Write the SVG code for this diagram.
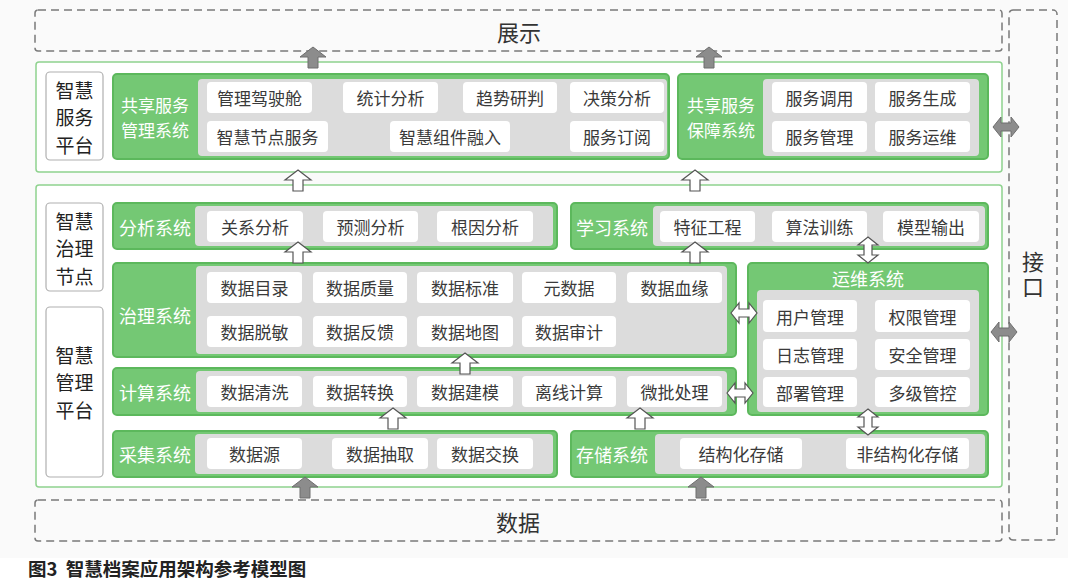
<svg xmlns="http://www.w3.org/2000/svg" xmlns:xlink="http://www.w3.org/1999/xlink" width="1080" height="585" viewBox="0 0 1080 585">
<style>
text{font-family:"Noto Sans CJK SC","Noto Sans",sans-serif;dominant-baseline:central;text-anchor:middle}
.dash{fill:none;stroke:#7a7a7a;stroke-width:1.5;stroke-dasharray:8 5}
.plat{fill:#fff;stroke:#8fd28f;stroke-width:1.5}
.lbl{fill:#fff;stroke:#b0b0b0;stroke-width:1.2}
.grn{fill:#74c874;stroke:#5cb85c;stroke-width:2}
.gry{fill:#dcdcdc}
.itm{fill:#fff}
.it{font-size:17px;fill:#3a3a3a}
.gt{font-size:18px;fill:#fff}
.gt2{font-size:17px;fill:#fff}
.lt{font-size:19px;fill:#222}
.big{font-size:22px;fill:#333}
.vt{writing-mode:vertical-rl;letter-spacing:3px}
.wa{fill:#fff;stroke:#555;stroke-width:1.2}
.ga{fill:#8c8c8c;stroke:#6e6e6e;stroke-width:1}
</style>
<defs>
<path id="up" d="M0,0 L13,10 L5,10 L5,21 L-5,21 L-5,10 L-13,10 Z"/>
<path id="dh" d="M-13,0 L-5,-10 L-5,-4 L5,-4 L5,-10 L13,0 L5,10 L5,4 L-5,4 L-5,10 Z"/>
<path id="dv" d="M0,-13 L10,-5 L4,-5 L4,5 L10,5 L0,13 L-10,5 L-4,5 L-4,-5 L-10,-5 Z"/>
</defs>
<rect x="0" y="0" width="1068" height="558" fill="#fafafa"/>
<rect x="0" y="558" width="1080" height="27" fill="#fff"/>

<g id="display">
<rect class="dash" x="35" y="10" width="967" height="41" rx="3"/>
<text class="big" x="519" y="31">展示</text>
</g>
<g id="data">
<rect class="dash" x="35" y="500" width="967" height="41" rx="3"/>
<text class="big" x="518" y="521">数据</text>
</g>
<g id="interface">
<rect class="dash" x="1009" y="10" width="48" height="530" rx="4"/>
<text class="big vt" x="1033" y="276">接口</text>
</g>

<g id="service-platform">
<rect class="plat" x="36" y="62" width="966" height="110" rx="3"/>
<rect class="lbl" x="46" y="72" width="57" height="88" rx="4"/>
<text class="lt" x="74.5" y="88.5"><tspan x="74.5" y="88.5">智慧</tspan><tspan x="74.5" y="116">服务</tspan><tspan x="74.5" y="143.5">平台</tspan></text>
</g>

<g id="shared-service-mgmt">
<rect class="grn" x="113" y="74" width="556" height="85" rx="4"/>
<text class="gt2" x="155" y="104"><tspan x="155" y="104">共享服务</tspan><tspan x="155" y="129">管理系统</tspan></text>
<rect class="gry" x="198" y="79" width="469" height="77" rx="4"/>
<rect class="itm" x="207" y="82" width="105" height="31" rx="4"/><text class="it" x="259.5" y="97.5">管理驾驶舱</text>
<rect class="itm" x="343" y="82" width="95" height="31" rx="4"/><text class="it" x="390.5" y="97.5">统计分析</text>
<rect class="itm" x="463" y="82" width="94" height="31" rx="4"/><text class="it" x="510" y="97.5">趋势研判</text>
<rect class="itm" x="570" y="82" width="94" height="31" rx="4"/><text class="it" x="617" y="97.5">决策分析</text>
<rect class="itm" x="207" y="121" width="121" height="31" rx="4"/><text class="it" x="267.5" y="136.5">智慧节点服务</text>
<rect class="itm" x="390" y="121" width="120" height="31" rx="4"/><text class="it" x="450" y="136.5">智慧组件融入</text>
<rect class="itm" x="570" y="121" width="94" height="31" rx="4"/><text class="it" x="617" y="136.5">服务订阅</text>
</g>

<g id="shared-service-guarantee">
<rect class="grn" x="678" y="74" width="310" height="85" rx="4"/>
<text class="gt2" x="721" y="104"><tspan x="721" y="104">共享服务</tspan><tspan x="721" y="129">保障系统</tspan></text>
<rect class="gry" x="763" y="79" width="216" height="77" rx="4"/>
<rect class="itm" x="772" y="82" width="95" height="31" rx="4"/><text class="it" x="819.5" y="97.5">服务调用</text>
<rect class="itm" x="875" y="82" width="95" height="31" rx="4"/><text class="it" x="922.5" y="97.5">服务生成</text>
<rect class="itm" x="772" y="121" width="95" height="31" rx="4"/><text class="it" x="819.5" y="136.5">服务管理</text>
<rect class="itm" x="875" y="121" width="95" height="31" rx="4"/><text class="it" x="922.5" y="136.5">服务运维</text>
</g>

<g id="mgmt-platform">
<rect class="plat" x="36" y="185" width="966" height="302" rx="3"/>
<rect class="lbl" x="46" y="203" width="57" height="88" rx="4"/>
<text class="lt" x="74.5" y="219.5"><tspan x="74.5" y="219.5">智慧</tspan><tspan x="74.5" y="247">治理</tspan><tspan x="74.5" y="274.5">节点</tspan></text>
<rect class="lbl" x="46" y="307" width="57" height="170" rx="4"/>
<text class="lt" x="74.5" y="353.5"><tspan x="74.5" y="353.5">智慧</tspan><tspan x="74.5" y="381">管理</tspan><tspan x="74.5" y="408.5">平台</tspan></text>
</g>

<g id="analysis">
<rect class="grn" x="113" y="203" width="444" height="46" rx="4"/>
<text class="gt" x="155" y="227">分析系统</text>
<rect class="gry" x="195" y="206" width="358" height="40" rx="4"/>
<rect class="itm" x="207" y="211" width="96" height="31" rx="4"/><text class="it" x="255" y="226.5">关系分析</text>
<rect class="itm" x="323" y="211" width="95" height="31" rx="4"/><text class="it" x="370.5" y="226.5">预测分析</text>
<rect class="itm" x="437" y="211" width="96" height="31" rx="4"/><text class="it" x="485" y="226.5">根因分析</text>
</g>

<g id="learning">
<rect class="grn" x="571" y="203" width="417" height="46" rx="4"/>
<text class="gt" x="612" y="227">学习系统</text>
<rect class="gry" x="653" y="206" width="332" height="40" rx="4"/>
<rect class="itm" x="660" y="211" width="95" height="31" rx="4"/><text class="it" x="707.5" y="226.5">特征工程</text>
<rect class="itm" x="772" y="211" width="95" height="31" rx="4"/><text class="it" x="819.5" y="226.5">算法训练</text>
<rect class="itm" x="883" y="211" width="96" height="31" rx="4"/><text class="it" x="931" y="226.5">模型输出</text>
</g>

<g id="governance">
<rect class="grn" x="113" y="263" width="623" height="94" rx="4"/>
<text class="gt" x="155" y="315">治理系统</text>
<rect class="gry" x="196" y="266" width="531" height="88" rx="4"/>
<rect class="itm" x="207" y="272" width="95" height="31" rx="4"/><text class="it" x="254.5" y="287.5">数据目录</text>
<rect class="itm" x="313" y="272" width="94" height="31" rx="4"/><text class="it" x="360" y="287.5">数据质量</text>
<rect class="itm" x="417" y="272" width="96" height="31" rx="4"/><text class="it" x="465" y="287.5">数据标准</text>
<rect class="itm" x="522" y="272" width="94" height="31" rx="4"/><text class="it" x="569" y="287.5">元数据</text>
<rect class="itm" x="627" y="272" width="95" height="31" rx="4"/><text class="it" x="674.5" y="287.5">数据血缘</text>
<rect class="itm" x="207" y="316" width="95" height="31" rx="4"/><text class="it" x="254.5" y="331.5">数据脱敏</text>
<rect class="itm" x="313" y="316" width="94" height="31" rx="4"/><text class="it" x="360" y="331.5">数据反馈</text>
<rect class="itm" x="417" y="316" width="96" height="31" rx="4"/><text class="it" x="465" y="331.5">数据地图</text>
<rect class="itm" x="522" y="316" width="94" height="31" rx="4"/><text class="it" x="569" y="331.5">数据审计</text>
</g>

<g id="compute">
<rect class="grn" x="113" y="368" width="623" height="47" rx="4"/>
<text class="gt" x="155" y="392">计算系统</text>
<rect class="gry" x="196" y="371" width="531" height="41" rx="4"/>
<rect class="itm" x="207" y="376" width="95" height="31" rx="4"/><text class="it" x="254.5" y="391.5">数据清洗</text>
<rect class="itm" x="313" y="376" width="94" height="31" rx="4"/><text class="it" x="360" y="391.5">数据转换</text>
<rect class="itm" x="417" y="376" width="96" height="31" rx="4"/><text class="it" x="465" y="391.5">数据建模</text>
<rect class="itm" x="522" y="376" width="94" height="31" rx="4"/><text class="it" x="569" y="391.5">离线计算</text>
<rect class="itm" x="627" y="376" width="95" height="31" rx="4"/><text class="it" x="674.5" y="391.5">微批处理</text>
</g>

<g id="collection">
<rect class="grn" x="113" y="431" width="444" height="46" rx="4"/>
<text class="gt" x="155" y="454">采集系统</text>
<rect class="gry" x="195" y="434" width="358" height="40" rx="4"/>
<rect class="itm" x="207" y="438" width="95" height="31" rx="4"/><text class="it" x="254.5" y="453.5">数据源</text>
<rect class="itm" x="332" y="438" width="96" height="31" rx="4"/><text class="it" x="380" y="453.5">数据抽取</text>
<rect class="itm" x="437" y="438" width="96" height="31" rx="4"/><text class="it" x="485" y="453.5">数据交换</text>
</g>

<g id="storage">
<rect class="grn" x="571" y="431" width="417" height="46" rx="4"/>
<text class="gt" x="612" y="454">存储系统</text>
<rect class="gry" x="655" y="434" width="330" height="40" rx="4"/>
<rect class="itm" x="680" y="438" width="122" height="31" rx="4"/><text class="it" x="741" y="453.5">结构化存储</text>
<rect class="itm" x="846" y="438" width="123" height="31" rx="4"/><text class="it" x="907.5" y="453.5">非结构化存储</text>
</g>

<g id="ops">
<rect class="grn" x="748" y="263" width="240" height="152" rx="4"/>
<text class="gt" x="868" y="278">运维系统</text>
<rect class="gry" x="757" y="290" width="222" height="122" rx="4"/>
<rect class="itm" x="763" y="300" width="94" height="32" rx="4"/><text class="it" x="810" y="316">用户管理</text>
<rect class="itm" x="875" y="300" width="95" height="32" rx="4"/><text class="it" x="922.5" y="316">权限管理</text>
<rect class="itm" x="763" y="339" width="94" height="31" rx="4"/><text class="it" x="810" y="354.5">日志管理</text>
<rect class="itm" x="875" y="339" width="95" height="31" rx="4"/><text class="it" x="922.5" y="354.5">安全管理</text>
<rect class="itm" x="763" y="377" width="94" height="30" rx="4"/><text class="it" x="810" y="392">部署管理</text>
<rect class="itm" x="875" y="377" width="95" height="30" rx="4"/><text class="it" x="922.5" y="392">多级管控</text>
</g>

<g id="connectors">
<use href="#up" class="ga" x="313" y="47"/>
<use href="#up" class="ga" x="709" y="47"/>
<use href="#up" class="wa" x="298" y="170"/>
<use href="#up" class="wa" x="695" y="170"/>
<use href="#up" class="wa" x="298" y="242"/>
<use href="#up" class="wa" x="695" y="242"/>
<use href="#up" class="wa" x="465" y="353"/>
<use href="#up" class="wa" x="393" y="408"/>
<use href="#up" class="wa" x="640" y="408"/>
<use href="#up" class="ga" x="305" y="477"/>
<use href="#up" class="ga" x="701" y="477"/>
<use href="#dh" class="wa" x="744" y="313"/>
<use href="#dh" class="wa" x="740" y="393"/>
<use href="#dv" class="wa" x="868" y="250"/>
<use href="#dv" class="wa" x="868" y="422"/>
<use href="#dh" class="ga" x="1006" y="127"/>
<use href="#dh" class="ga" x="1004" y="332"/>
</g>

<text x="28" y="568" xml:space="preserve" style="text-anchor:start;font-size:18.5px;font-weight:bold;fill:#222">图3  智慧档案应用架构参考模型图</text>
</svg>
